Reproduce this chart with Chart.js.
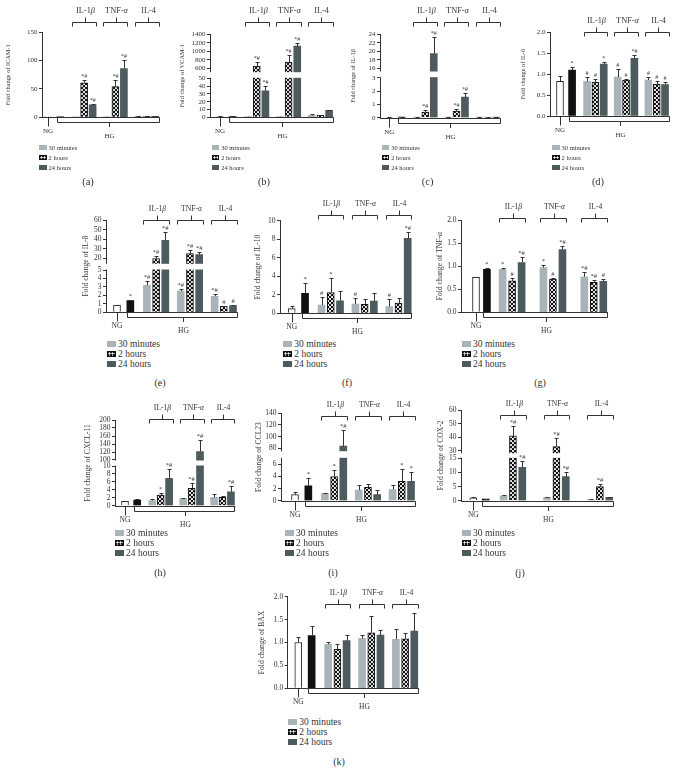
<!DOCTYPE html>
<html>
<head>
<meta charset="utf-8">
<script src="https://cdn.jsdelivr.net/npm/chart.js@4.4.1/dist/chart.umd.min.js"></script>
<style>
  html, body { margin: 0; padding: 0; background: #fff; }
  #fig { position: relative; width: 684px; height: 782px; overflow: hidden;
         font-family: "Liberation Serif", "DejaVu Serif", serif; color: #333;
         -webkit-font-smoothing: antialiased; }
  #fig canvas { position: absolute; }
  .legend { position: absolute; white-space: nowrap; color: #333; }
  .legend .row { display: flex; align-items: center; height: 10px; }
  .legend .sw { display: inline-block; box-sizing: border-box; margin-right: 2px; }
  .cap { position: absolute; transform: translateX(-50%); line-height: 1; color: #333; }
</style>
</head>
<body>
<div id="fig"></div>
<script>
// bar order in every panel: NG, HG, then IL-1β / TNF-α / IL-4 at 30 min, 2 h, 24 h
const controls = ['NG', 'HG'];
const groupLabels = ['IL-1β', 'TNF-α', 'IL-4'];
const timeLabels = ['30 minutes', '2 hours', '24 hours'];

// (a) ICAM-1
const icamMean = [1, 1, 0.6, 61, 22, 0.8, 54, 86, 1.5, 1.6, 1.5];
const icamErr = [0.2, 0.2, 0.1, 5, 1.5, 0.2, 12, 15, 0.3, 0.3, 0.3];
const icamSig = ['', '', '', '*#', '*#', '', '*#', '*#', '', '', ''];
const icamTicks = [0, 50, 100, 150];

// (b) VCAM-1
const vcamMean = [1, 1, 0.8, 650, 34, 0.8, 745, 1120, 2.5, 2.5, 9];
const vcamErr = [0.3, 0.3, 0.2, 95, 5.5, 0.2, 165, 70, 1.2, 1, 0.5];
const vcamSig = ['', '', '', '*#', '*#', '', '*#', '*#', '', '', ''];
const vcamTicks = [0, 10, 20, 30, 40, 50, 600, 800, 1000, 1200, 1400];

// (c) IL-1β
const il1bMean = [0.02, 0.03, 0.03, 0.42, 19.5, 0.03, 0.5, 1.55, 0.05, 0.03, 0.03];
const il1bErr = [0.01, 0.01, 0.01, 0.15, 3.8, 0.01, 0.15, 0.28, 0.01, 0.01, 0.01];
const il1bSig = ['', '', '', '*#', '*#', '', '*#', '*#', '', '', ''];
const il1bTicks = [0, 1, 2, 3, 16, 18, 20, 22, 24];

// (d) IL-6
const il6Mean = [0.83, 1.1, 0.83, 0.81, 1.24, 0.93, 0.86, 1.38, 0.86, 0.76, 0.75];
const il6Err = [0.13, 0.06, 0.09, 0.07, 0.05, 0.2, 0.02, 0.07, 0.07, 0.07, 0.06];
const il6Sig = ['', '*', '#', '#', '*', '#', '#', '*#', '#', '#', '#'];
const il6Ticks = [0, 0.5, 1, 1.5, 2];

// (e) IL-8
const il8Mean = [0.85, 1.4, 3.2, 20, 39, 2.5, 25, 24, 1.9, 0.7, 0.8];
const il8Err = [0.05, 0.1, 0.55, 3, 9, 0.3, 4, 3, 0.3, 0.05, 0.05];
const il8Sig = ['', '*', '*#', '*#', '*#', '*#', '*#', '*#', '*#', '#', '#'];
const il8Ticks = [0, 1, 2, 3, 4, 5, 20, 30, 40, 50, 60];

// (f) IL-10
const il10Mean = [0.5, 2.15, 0.9, 2.25, 1.35, 1.0, 0.97, 1.33, 0.72, 1.1, 8.1];
const il10Err = [0.3, 1.1, 0.9, 1.6, 1.1, 0.6, 0.6, 0.85, 0.8, 0.5, 0.7];
const il10Sig = ['', '*', '#', '*', '', '#', '', '', '#', '', '*#'];
const il10Ticks = [0, 2, 4, 6, 8, 10];

// (g) TNF-α
const tnfaMean = [0.76, 0.93, 0.93, 0.68, 1.08, 0.97, 0.72, 1.36, 0.77, 0.65, 0.67];
const tnfaErr = [0.01, 0.02, 0.02, 0.06, 0.12, 0.06, 0.02, 0.07, 0.1, 0.05, 0.05];
const tnfaSig = ['', '*', '*', '#', '*#', '*', '#', '*#', '*#', '*#', '#'];
const tnfaTicks = [0, 0.5, 1, 1.5, 2];

// (h) CXCL-11
const cxclMean = [1.1, 1.4, 1.3, 2.7, 6.9, 1.8, 4.4, 121, 2.1, 2.1, 3.5];
const cxclErr = [0.2, 0.3, 0.3, 0.6, 2.3, 0.15, 1.2, 29, 0.8, 0.3, 1.5];
const cxclSig = ['', '', '', '*', '*#', '', '*#', '*#', '', '', '*#'];
const cxclTicks = [0, 2, 4, 6, 8, 10, 100, 120, 140, 160, 180, 200];

// (i) CCL23
const cclMean = [1.0, 2.45, 1.2, 4.0, 84, 1.75, 2.2, 1.0, 1.85, 3.2, 3.2];
const cclErr = [0.5, 1.25, 0.1, 1.0, 27, 0.85, 0.6, 0.75, 0.75, 2.0, 1.55];
const cclSig = ['', '*', '', '*', '*#', '', '', '', '', '*', '*'];
const cclTicks = [0, 2, 4, 6, 80, 100, 120, 140];

// (j) COX-2
const coxMean = [1.0, 0.6, 1.7, 41, 11.8, 1.2, 33, 8.5, 0.4, 5, 1.2];
const coxErr = [0.15, 0.1, 0.15, 7, 2.3, 0.2, 6, 1.8, 0.1, 0.8, 0.2];
const coxSig = ['', '', '', '*#', '*#', '', '*#', '*#', '', '*#', ''];
const coxTicks = [0, 5, 10, 15, 30, 40, 50, 60];

// (k) BAX
const baxMean = [1.0, 1.15, 0.96, 0.85, 1.04, 1.09, 1.21, 1.16, 1.07, 1.08, 1.25];
const baxErr = [0.12, 0.21, 0.06, 0.12, 0.13, 0.08, 0.36, 0.12, 0.23, 0.13, 0.4];
const baxSig = ['', '', '', '', '', '', '', '', '', '', ''];
const baxTicks = [0, 0.5, 1, 1.5, 2];

// page layout of each panel (axis x, top tick y, zero y, NG bar x, bar pitch, bracket y ...)
const panels = [
  { cap: '(a)', title: 'Fold change of ICAM-1', mean: icamMean, err: icamErr, sig: icamSig, ticks: icamTicks,
    ax: 42, top: 32.3, zero: 117.3, ng: 48, slot: 8.5, br: 22, tx: 9, leg: [39, 142], capAt: [88, 182], row1: true },
  { cap: '(b)', title: 'Fold change of VCAM-1', mean: vcamMean, err: vcamErr, sig: vcamSig, ticks: vcamTicks,
    ax: 210, top: 34.3, zero: 117.3, ng: 220, slot: 8.65, br: 21.7, tx: 183, leg: [211.7, 142], capAt: [264, 182], row1: true,
    brk: { lowMax: 50, lowTop: 78.3, highMin: 520, highBot: 71.7 } },
  { cap: '(c)', title: 'Fold change of IL-1β', mean: il1bMean, err: il1bErr, sig: il1bSig, ticks: il1bTicks,
    ax: 380, top: 34.3, zero: 117.7, ng: 389.3, slot: 8.47, br: 21.7, tx: 353.3, leg: [381.7, 142], capAt: [427.7, 182], row1: true,
    brk: { lowMax: 3, lowTop: 77.7, highMin: 15.4, highBot: 71 } },
  { cap: '(d)', title: 'Fold change of IL-6', mean: il6Mean, err: il6Err, sig: il6Sig, ticks: il6Ticks, dec: 1,
    ax: 550, top: 32.3, zero: 116, ng: 560, slot: 8.33, br: 32.3, tx: 523.3, leg: [552, 142], capAt: [598, 182], row1: true },
  { cap: '(e)', title: 'Fold change of IL-8', mean: il8Mean, err: il8Err, sig: il8Sig, ticks: il8Ticks,
    ax: 106, top: 220, zero: 312.3, ng: 117, slot: 9.2, br: 220, tx: 86, leg: [107, 339], capAt: [160, 383],
    brk: { lowMax: 5, lowTop: 270, highMin: 15, highBot: 263.3 } },
  { cap: '(f)', title: 'Fold change of IL-10', mean: il10Mean, err: il10Err, sig: il10Sig, ticks: il10Ticks,
    ax: 280, top: 220.7, zero: 313.3, ng: 291.7, slot: 9.2, br: 215, tx: 258, leg: [283.3, 339], capAt: [347, 383] },
  { cap: '(g)', title: 'Fold change of TNF-α', mean: tnfaMean, err: tnfaErr, sig: tnfaSig, ticks: tnfaTicks, dec: 1,
    ax: 461, top: 220, zero: 312.3, ng: 476, slot: 9.5, hg: 1.15, first: 2.8, step: 4.3,
    br: 218, tx: 440, leg: [462, 339], capAt: [540, 383] },
  { cap: '(h)', title: 'Fold change of CXCL-11', mean: cxclMean, err: cxclErr, sig: cxclSig, ticks: cxclTicks,
    ax: 115, top: 420, zero: 505.7, ng: 125, slot: 8.4, br: 419.3, tx: 87.3, leg: [115, 528], capAt: [160, 572.7],
    brk: { lowMax: 10, lowTop: 466, highMin: 100, highBot: 460 } },
  { cap: '(i)', title: 'Fold change of CCL23', mean: cclMean, err: cclErr, sig: cclSig, ticks: cclTicks,
    ax: 281, top: 413.3, zero: 500.7, ng: 295, slot: 9.2, br: 416, tx: 258.3, leg: [285, 528], capAt: [333, 572.7],
    brk: { lowMax: 7, lowTop: 458.3, highMin: 76, highBot: 450.7 } },
  { cap: '(j)', title: 'Fold change of COX-2', mean: coxMean, err: coxErr, sig: coxSig, ticks: coxTicks,
    ax: 461, top: 410, zero: 500.7, ng: 473.3, slot: 9.35, hg: 1.33, first: 3.24, step: 4.65,
    br: 415, tx: 441, leg: [462, 528], capAt: [520, 572.7],
    brk: { lowMax: 15, lowTop: 458.3, highMin: 28.5, highBot: 452.7 } },
  { cap: '(k)', title: 'Fold change of BAX', mean: baxMean, err: baxErr, sig: baxSig, ticks: baxTicks, dec: 1,
    ax: 287.7, top: 596.7, zero: 688.3, ng: 298.3, slot: 9.2, br: 604.3, tx: 261.7, leg: [288.3, 717], capAt: [339, 761.7] }
];

const SERIF = '"Liberation Serif", "DejaVu Serif", serif';
const INK = '#333';
const FILL_30 = '#a9b4b9';
const FILL_24 = '#4d5a5e';
const fig = document.getElementById('fig');

// y scale with an optional break: lower part [0, lowMax], upper part [highMin, max]
class BrokenScale extends Chart.LinearScale {
  buildTicks() {
    return this.options.tickValues.map(v => ({ value: v }));
  }
  toDecimal(v) {
    const o = this.options;
    if (o.lowMax == null) return (v - this.min) / (this.max - this.min);
    if (v <= o.lowMax) return v / o.lowMax * o.lowFrac;
    if (v < o.highMin) return o.lowFrac + (v - o.lowMax) / (o.highMin - o.lowMax) * (o.highFrac - o.lowFrac);
    return o.highFrac + (v - o.highMin) / (this.max - o.highMin) * (1 - o.highFrac);
  }
  getPixelForValue(v) {
    return this.getPixelForDecimal(this.toDecimal(v));
  }
  getValueForPixel(px) {
    const d = this.getDecimalForPixel(px);
    const o = this.options;
    if (o.lowMax == null) return this.min + d * (this.max - this.min);
    if (d <= o.lowFrac) return d / o.lowFrac * o.lowMax;
    if (d < o.highFrac) return o.lowMax + (d - o.lowFrac) / (o.highFrac - o.lowFrac) * (o.highMin - o.lowMax);
    return o.highMin + (d - o.highFrac) / (1 - o.highFrac) * (this.max - o.highMin);
  }
}
BrokenScale.id = 'broken';
Chart.register(BrokenScale);

// white dots on black for the 2 hours bars
function dotPattern() {
  const c = document.createElement('canvas');
  c.width = 4; c.height = 4;
  const g = c.getContext('2d');
  g.fillStyle = '#111';
  g.fillRect(0, 0, 4, 4);
  g.fillStyle = '#fff';
  [[1, 1], [3, 3]].forEach(([x, y]) => {
    g.beginPath(); g.arc(x, y, 1.05, 0, Math.PI * 2); g.fill();
  });
  return g.createPattern(c, 'repeat');
}
const DOTS = dotPattern();

// x position of bar i, in bar pitches
function barPos(p, i) {
  if (i === 0) return 0;
  if (i === 1) return p.hg || 1.45;
  const g = Math.floor((i - 2) / 3), t = (i - 2) % 3;
  return (p.first || 3.25) + g * (p.step || 3.68) + t;
}

function fontsFor(p) {
  return p.row1
    ? { tick: 7, title: 6.3, br: 8.3, leg: 6.5, sig: 6, ng: 7, cap: 10.5, sw: [7.5, 5] }
    : { tick: 7.5, title: 7.6, br: 7.6, leg: 9.5, sig: 6.5, ng: 7.5, cap: 10, sw: [9, 6] };
}

// group label with italic greek letters
function drawLabel(ctx, text, cx, cy, size) {
  const parts = text.split(/([α-ω])/).filter(Boolean);
  const fonts = parts.map(s => (/[α-ω]/.test(s) ? 'italic ' : '') + size + 'px ' + SERIF);
  let w = 0;
  parts.forEach((s, i) => { ctx.font = fonts[i]; w += ctx.measureText(s).width; });
  let x = cx - w / 2;
  ctx.textAlign = 'left';
  ctx.textBaseline = 'middle';
  parts.forEach((s, i) => {
    ctx.font = fonts[i];
    ctx.fillText(s, x, cy);
    x += ctx.measureText(s).width;
  });
}

function annotPlugin(p, f, cTop, bw) {
  return {
    id: 'annot',
    afterDatasetsDraw(chart) {
      const { ctx, chartArea: a, scales: { y } } = chart;
      const bars = [chart.getDatasetMeta(0).data[0], chart.getDatasetMeta(1).data[0]];
      for (let g = 0; g < 3; g++) for (let k = 0; k < 3; k++) bars.push(chart.getDatasetMeta(2 + k).data[g]);
      ctx.save();

      // gap of the broken axis
      if (p.brk) {
        const y1 = y.getPixelForValue(p.brk.highMin), y2 = y.getPixelForValue(p.brk.lowMax);
        ctx.fillStyle = '#fff';
        ctx.fillRect(a.left - 2, y1 + 0.5, a.right - a.left + 4, y2 - y1 - 1);
      }

      ctx.strokeStyle = INK;
      ctx.fillStyle = INK;
      ctx.lineWidth = 1;

      // error bars (upper only) and significance marks
      ctx.font = f.sig + 'px ' + SERIF;
      ctx.textAlign = 'center';
      ctx.textBaseline = 'bottom';
      bars.forEach((b, i) => {
        const top = Math.round(y.getPixelForValue(p.mean[i] + p.err[i])) + 0.5;
        const cx = Math.round(b.x) + 0.5;
        ctx.beginPath();
        ctx.moveTo(cx, b.y);
        ctx.lineTo(cx, top);
        ctx.moveTo(cx - 2, top);
        ctx.lineTo(cx + 2, top);
        ctx.stroke();
        if (p.sig[i]) ctx.fillText(p.sig[i], b.x, top - 1);
      });

      // x axis line
      const z = Math.round(a.bottom) + 0.5;
      ctx.beginPath();
      ctx.moveTo(a.left, z);
      ctx.lineTo(a.right, z);
      ctx.stroke();

      // NG tick and HG bracket below the axis
      const ng = bars[0];
      const nx = Math.round(ng.x) + 0.5;
      ctx.beginPath();
      ctx.moveTo(nx, z);
      ctx.lineTo(nx, z + 9);
      const hl = Math.round(bars[1].x - bw / 2) + 0.5, hr = Math.round(bars[10].x + bw / 2) + 0.5;
      const hy = z + 5, hc = Math.round((hl + hr) / 2) + 0.5;
      ctx.moveTo(hl, z);
      ctx.lineTo(hl, hy);
      ctx.lineTo(hr, hy);
      ctx.lineTo(hr, z);
      ctx.moveTo(hc, hy);
      ctx.lineTo(hc, hy + 4.5);
      ctx.stroke();
      ctx.font = f.ng + 'px ' + SERIF;
      ctx.textBaseline = 'middle';
      ctx.fillText(controls[0], ng.x, z + 14);
      ctx.fillText(controls[1], hc, z + 18.5);

      // treatment brackets above the bars
      const by = Math.round(p.br - cTop) + 0.5;
      groupLabels.forEach((g, gi) => {
        const l = Math.round(bars[2 + gi * 3].x - bw / 2) + 0.5;
        const r = Math.round(bars[4 + gi * 3].x + bw / 2) + 0.5;
        const c = Math.round((l + r) / 2) + 0.5;
        ctx.beginPath();
        ctx.moveTo(l, by + 4);
        ctx.lineTo(l, by);
        ctx.lineTo(r, by);
        ctx.lineTo(r, by + 4);
        ctx.moveTo(c, by);
        ctx.lineTo(c, by - 5);
        ctx.stroke();
        drawLabel(ctx, g, c, by - 11.5, f.br);
      });
      ctx.restore();
    }
  };
}

function makePanel(p) {
  const f = fontsFor(p);
  const bw = 7;
  const lastPos = barPos(p, 10);
  const xmin = -(p.ng - p.ax) / p.slot;
  const xmax = lastPos + (bw / 2 + 1) / p.slot;
  const right = p.ax + (xmax - xmin) * p.slot;
  const left = Math.round(p.tx - 0.6 * f.title);
  const top = Math.round(p.br - 21);
  const W = Math.ceil(right + 6 - left), H = Math.ceil(p.zero + 25 - top);

  const cv = document.createElement('canvas');
  cv.width = W; cv.height = H;
  cv.style.left = left + 'px';
  cv.style.top = top + 'px';
  cv.style.width = W + 'px';
  cv.style.height = H + 'px';
  fig.appendChild(cv);

  const common = { barThickness: bw, grouped: false, borderSkipped: 'start' };
  const pt = i => ({ x: barPos(p, i), y: p.mean[i] });
  const timeFill = [FILL_30, DOTS, FILL_24];
  const datasets = [
    Object.assign({ label: controls[0], data: [pt(0)], backgroundColor: '#fff', borderColor: '#222', borderWidth: 1 }, common),
    Object.assign({ label: controls[1], data: [pt(1)], backgroundColor: '#111', borderWidth: 0 }, common)
  ];
  timeLabels.forEach((t, k) => {
    datasets.push(Object.assign({
      label: t,
      data: groupLabels.map((g, gi) => pt(2 + gi * 3 + k)),
      backgroundColor: timeFill[k],
      borderColor: '#111',
      borderWidth: k === 1 ? 1 : 0
    }, common));
  });

  let brkOpts = {};
  if (p.brk) {
    const span = p.zero - p.top;
    brkOpts = {
      lowMax: p.brk.lowMax,
      lowFrac: (p.zero - p.brk.lowTop) / span,
      highMin: p.brk.highMin,
      highFrac: (p.zero - p.brk.highBot) / span
    };
  }

  new Chart(cv, {
    type: 'bar',
    data: { datasets },
    options: {
      responsive: false,
      animation: false,
      devicePixelRatio: 1,
      layout: {
        padding: { left: 0, top: p.top - top, right: W - (right - left), bottom: H - (p.zero - top) }
      },
      plugins: { legend: { display: false }, tooltip: { enabled: false } },
      scales: {
        x: { type: 'linear', display: false, offset: false, min: xmin, max: xmax },
        y: Object.assign({
          type: 'broken',
          min: 0,
          max: p.ticks[p.ticks.length - 1],
          tickValues: p.ticks,
          afterFit: s => { s.width = p.ax - left; },
          grid: { display: true, drawOnChartArea: false, drawTicks: true, tickLength: 3, color: INK, lineWidth: 1 },
          border: { display: true, color: INK, width: 1 },
          ticks: {
            autoSkip: false,
            padding: 1.5,
            color: INK,
            font: { family: SERIF, size: f.tick },
            callback: v => p.dec ? v.toFixed(p.dec) : String(v)
          },
          title: { display: true, text: p.title, color: INK, padding: 0, font: { family: SERIF, size: f.title } }
        }, brkOpts)
      }
    },
    plugins: [annotPlugin(p, f, top, bw)]
  });

  // legend
  const swatch = ['background:' + FILL_30,
    'background-color:#111;border:1px solid #111;background-image:radial-gradient(circle,#fff 0.9px,transparent 1.2px);background-size:3px 3px',
    'background:' + FILL_24];
  const leg = document.createElement('div');
  leg.className = 'legend';
  leg.style.left = p.leg[0] + 'px';
  leg.style.top = p.leg[1] + 'px';
  leg.style.fontSize = f.leg + 'px';
  timeLabels.forEach((t, k) => {
    const row = document.createElement('div');
    row.className = 'row';
    const sw = document.createElement('span');
    sw.className = 'sw';
    sw.style.cssText += swatch[k] + ';width:' + f.sw[0] + 'px;height:' + f.sw[1] + 'px';
    row.appendChild(sw);
    row.appendChild(document.createTextNode(t));
    leg.appendChild(row);
  });
  fig.appendChild(leg);

  // panel caption
  const cap = document.createElement('div');
  cap.className = 'cap';
  cap.style.fontSize = f.cap + 'px';
  cap.style.left = p.capAt[0] + 'px';
  cap.style.top = (p.capAt[1] - f.cap / 2) + 'px';
  cap.textContent = p.cap;
  fig.appendChild(cap);
}

panels.forEach(makePanel);
</script>
</body>
</html>
